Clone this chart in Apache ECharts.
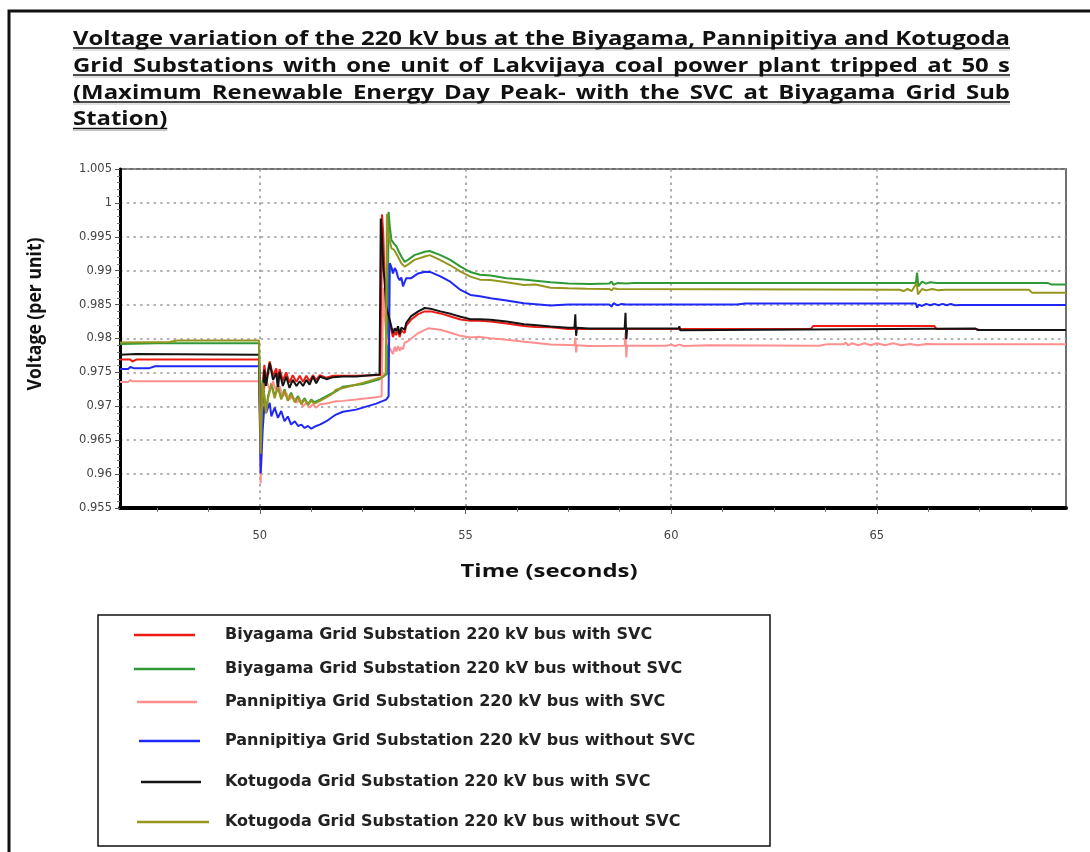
<!DOCTYPE html>
<html>
<head>
<meta charset="utf-8">
<title>Voltage variation of the 220 kV bus</title>
<script src="https://cdn.jsdelivr.net/npm/echarts@6.0.0/dist/echarts.min.js"></script>
<style>
  html, body { margin: 0; padding: 0; background: #ffffff; }
  #chart { width: 1090px; height: 852px; }
</style>
</head>
<body>
<div id="chart"></div>
<script>
// ---- Title text ----
const titleLines = [
  'Voltage variation of the 220 kV bus at the Biyagama, Pannipitiya and Kotugoda',
  'Grid Substations with one unit of Lakvijaya coal power plant tripped at 50 s',
  '(Maximum Renewable Energy Day Peak- with the SVC at Biyagama Grid Sub',
  'Station)'
];
const xAxisName = 'Time (seconds)';
const yAxisName = 'Voltage (per unit)';

// ---- Axis ranges and ticks ----
const timeRange = [46.6, 69.6];
const voltageRange = [0.955, 1.005];
const voltageStep = 0.005;
const timeMajorTicks = [50, 55, 60, 65];
const timeMinorTicks = [47.5, 48.75, 51.25, 52.5, 53.75, 56.25, 57.5, 58.75, 61.25, 62.5, 63.75, 66.25, 67.5, 68.75];

// ---- Series names ----
const seriesNames = [
  'Biyagama Grid Substation 220 kV bus with SVC',
  'Biyagama Grid Substation 220 kV bus without SVC',
  'Pannipitiya Grid Substation 220 kV bus with SVC',
  'Pannipitiya Grid Substation 220 kV bus without SVC',
  'Kotugoda Grid Substation 220 kV bus with SVC',
  'Kotugoda Grid Substation 220 kV bus without SVC'
];

// ---- Bus voltages [time s, voltage p.u.] ----
const biyagamaWithSvc = [
  [46.6,0.9769],[46.85,0.9769],[46.9,0.9766],[47.0,0.9769],[49.98,0.9769],
  [50.0,0.9700],[50.02,0.9652],[50.06,0.9728],[50.11,0.9761],[50.15,0.9738],[50.24,0.9766],[50.28,0.9768],
  [50.32,0.9745],[50.4,0.9756],[50.44,0.9736],[50.48,0.9755],[50.56,0.9738],[50.64,0.9750],[50.72,0.9735],
  [50.8,0.9746],[50.89,0.9736],[50.97,0.9745],[51.05,0.9736],[51.13,0.9745],[51.21,0.9737],[51.29,0.9746],
  [51.37,0.9739],[51.46,0.9746],[51.62,0.9742],[51.78,0.9745],[52.02,0.9745],[52.34,0.9745],[52.94,0.9746],
  [52.97,0.9983],[53.0,0.9955],[53.03,0.9895],[53.07,0.9850],[53.155,0.9823],[53.236,0.9802],[53.28,0.9810],
  [53.317,0.9805],[53.36,0.9814],[53.398,0.9802],[53.44,0.9812],[53.48,0.9814],[53.52,0.9808],[53.56,0.9819],
  [53.68,0.9828],[53.85,0.9836],[54.01,0.9840],[54.15,0.9840],[54.39,0.9837],[54.66,0.9832],[54.88,0.9828],
  [55.12,0.9826],[55.35,0.9826],[55.61,0.9825],[56.0,0.9822],[56.42,0.98186],[56.7,0.9817],[57.07,0.98167],
  [57.5,0.9814],[60.7,0.9814],[63.4,0.9814],[63.45,0.98185],[66.4,0.98185],[66.45,0.9814],[67.4,0.9814],
  [67.5,0.98127],[69.6,0.98127]
];
const biyagamaWithoutSvc = [
  [46.6,0.9792],[47.5,0.9793],[49.98,0.9793],
  [50.0,0.9700],[50.02,0.9633],[50.07,0.9739],[50.15,0.9692],[50.2,0.9715],[50.28,0.9734],[50.36,0.9715],
  [50.44,0.9730],[50.52,0.9712],[50.6,0.9725],[50.68,0.9710],[50.76,0.9720],[50.85,0.9708],[50.93,0.9715],
  [51.01,0.9705],[51.09,0.9712],[51.17,0.9703],[51.25,0.9710],[51.33,0.9706],[51.46,0.9710],[51.62,0.9715],
  [51.78,0.9720],[51.85,0.9722],[52.02,0.9729],[52.5,0.9733],[52.91,0.9740],[53.1,0.9748],
  [53.13,0.9987],[53.16,0.9965],[53.2,0.9945],[53.26,0.9940],[53.32,0.9936],[53.38,0.9928],[53.44,0.9921],
  [53.52,0.9913],[53.6,0.9916],[53.76,0.9923],[54.01,0.9928],[54.13,0.9929],[54.39,0.9923],[54.63,0.9916],
  [54.88,0.9906],[55.12,0.9898],[55.35,0.9894],[55.61,0.9893],[56.0,0.9889],[56.4,0.9887],[57.07,0.9883],
  [57.5,0.9881],[58.03,0.98805],[58.5,0.9881],[58.55,0.9884],[58.6,0.9879],[58.7,0.9882],[58.9,0.9881],
  [59.1,0.9882],[59.4,0.9882],[65.95,0.9882],[65.98,0.9897],[66.01,0.9877],[66.1,0.9884],[66.2,0.9881],
  [66.3,0.9883],[66.45,0.9882],[69.15,0.9882],[69.25,0.98795],[69.6,0.98795]
];
const pannipitiyaWithSvc = [
  [46.6,0.9736],[46.8,0.9736],[46.85,0.9739],[46.9,0.9737],[49.98,0.9737],
  [50.0,0.9680],[50.02,0.9586],[50.05,0.9650],[50.07,0.9715],[50.15,0.9739],[50.24,0.9725],[50.32,0.9737],
  [50.4,0.9722],[50.48,0.9730],[50.56,0.9715],[50.64,0.9720],[50.72,0.9710],[50.8,0.9715],[50.89,0.9705],
  [50.97,0.9710],[51.05,0.9700],[51.13,0.9705],[51.21,0.9698],[51.29,0.9703],[51.37,0.9698],[51.46,0.9703],
  [51.62,0.9704],[51.85,0.97074],[52.02,0.9708],[52.34,0.9710],[52.83,0.97132],[52.96,0.97147],
  [53.0,0.9875],[53.04,0.9830],[53.08,0.9800],[53.155,0.9786],[53.2,0.9784],[53.236,0.9777],[53.28,0.9788],
  [53.317,0.9781],[53.36,0.9789],[53.4,0.9782],[53.44,0.9787],[53.48,0.9784],[53.52,0.9794],[53.6,0.9796],
  [53.68,0.9800],[53.85,0.9808],[54.09,0.9815],[54.39,0.9813],[54.66,0.9808],[54.88,0.98039],[55.12,0.98015],
  [55.35,0.98024],[55.61,0.98005],[56.0,0.9798],[56.5,0.9795],[57.07,0.9791],[57.5,0.97905],[57.65,0.9790],
  [57.67,0.98015],[57.69,0.97795],[57.71,0.9790],[58.0,0.9789],[58.87,0.97893],[58.89,0.98088],[58.91,0.97722],
  [58.93,0.97893],[59.9,0.97893],[60.0,0.9791],[60.1,0.9789],[60.2,0.9791],[60.3,0.9789],[60.9,0.9790],
  [63.6,0.97893],[63.8,0.97917],[64.2,0.97917],[64.25,0.9794],[64.3,0.9790],[64.4,0.9793],[64.55,0.9790],
  [64.7,0.9793],[64.85,0.9790],[65.0,0.9793],[65.2,0.9790],[65.4,0.9793],[65.6,0.9790],[65.8,0.9792],
  [66.0,0.9790],[66.2,0.9792],[66.5,0.97917],[69.6,0.97917]
];
const pannipitiyaWithoutSvc = [
  [46.6,0.9755],[46.8,0.9755],[46.85,0.9758],[46.95,0.9756],[47.3,0.9756],[47.45,0.9759],[49.98,0.9759],
  [50.0,0.9680],[50.02,0.9601],[50.07,0.9666],[50.11,0.9700],[50.15,0.9690],[50.24,0.9705],[50.28,0.9685],
  [50.36,0.9698],[50.44,0.9683],[50.52,0.9693],[50.6,0.9678],[50.68,0.9685],[50.76,0.9673],[50.85,0.9678],
  [50.93,0.9671],[51.01,0.9673],[51.09,0.9668],[51.17,0.9671],[51.25,0.9667],[51.37,0.9671],[51.46,0.9673],
  [51.62,0.9678],[51.78,0.9685],[51.85,0.96877],[52.02,0.9692],[52.34,0.96951],[52.83,0.97039],[53.07,0.97098],
  [53.13,0.97147],[53.16,0.9911],[53.2,0.9905],[53.236,0.9896],[53.28,0.9904],[53.317,0.9900],[53.36,0.9890],
  [53.4,0.9886],[53.44,0.9890],[53.48,0.9877],[53.52,0.9883],[53.56,0.9889],[53.68,0.9889],[53.85,0.9896],
  [54.01,0.98985],[54.15,0.9898],[54.39,0.98917],[54.63,0.98838],[54.88,0.98716],[55.12,0.98642],[55.35,0.98624],
  [55.61,0.98593],[56.0,0.9856],[56.42,0.9852],[57.07,0.98485],[57.5,0.9850],[58.5,0.9850],[58.55,0.9847],
  [58.6,0.9852],[58.7,0.9849],[58.8,0.9851],[58.9,0.9850],[61.6,0.9850],[61.8,0.98517],[65.95,0.98517],
  [65.98,0.98454],[66.02,0.9850],[66.1,0.9848],[66.2,0.9851],[66.3,0.9849],[66.4,0.9851],[66.5,0.9849],
  [66.6,0.9851],[66.7,0.9849],[66.8,0.9851],[66.9,0.9849],[67.05,0.98495],[69.6,0.98495]
];
const kotugodaWithSvc = [
  [46.6,0.9776],[47.0,0.9777],[49.98,0.9776],
  [50.0,0.9710],[50.02,0.9660],[50.08,0.9722],[50.11,0.9754],[50.15,0.9730],[50.24,0.9764],[50.28,0.9766],
  [50.32,0.9739],[50.4,0.9749],[50.44,0.9725],[50.48,0.9751],[50.56,0.9730],[50.64,0.9744],[50.72,0.9727],
  [50.8,0.9739],[50.89,0.9730],[50.97,0.9737],[51.05,0.9730],[51.13,0.9739],[51.21,0.9732],[51.29,0.9744],
  [51.37,0.9734],[51.46,0.9744],[51.62,0.9740],[51.78,0.9743],[52.02,0.9744],[52.34,0.9744],[52.91,0.9747],
  [52.94,0.9977],[52.97,0.9950],[53.0,0.9905],[53.03,0.9887],[53.07,0.9848],[53.155,0.9828],[53.236,0.9808],
  [53.28,0.9815],[53.317,0.9811],[53.36,0.9818],[53.398,0.9806],[53.44,0.9816],[53.48,0.9818],[53.52,0.9813],
  [53.56,0.9823],[53.68,0.9833],[53.85,0.9840],[54.01,0.9845],[54.15,0.9844],[54.39,0.9840],[54.66,0.9836],
  [54.88,0.9832],[55.12,0.98284],[55.35,0.98283],[55.61,0.98275],[56.0,0.9825],[56.42,0.98211],[56.67,0.9820],
  [57.07,0.98176],[57.5,0.9816],[57.65,0.9816],[57.67,0.98356],[57.69,0.9804],[57.71,0.9816],[58.0,0.98146],
  [58.87,0.98146],[58.89,0.9838],[58.91,0.9799],[58.93,0.98146],[60.18,0.98146],[60.2,0.9818],[60.22,0.9812],
  [60.24,0.98146],[67.4,0.98146],[67.45,0.98127],[69.6,0.98127]
];
const kotugodaWithoutSvc = [
  [46.6,0.9794],[47.8,0.9795],[48.0,0.9797],[49.98,0.9797],
  [50.0,0.9700],[50.02,0.9630],[50.07,0.9735],[50.15,0.9690],[50.2,0.9712],[50.28,0.9732],[50.36,0.9712],
  [50.44,0.9728],[50.52,0.9710],[50.6,0.9723],[50.68,0.9708],[50.76,0.9718],[50.85,0.9706],[50.93,0.9713],
  [51.01,0.9703],[51.09,0.9710],[51.17,0.9702],[51.25,0.9708],[51.33,0.9704],[51.46,0.9708],[51.62,0.9713],
  [51.78,0.9719],[51.85,0.97245],[52.02,0.9727],[52.5,0.97343],[52.99,0.97431],[53.06,0.9749],
  [53.09,0.9984],[53.12,0.9955],[53.2,0.9933],[53.26,0.9931],[53.32,0.9925],[53.44,0.9911],[53.52,0.9906],
  [53.6,0.9909],[53.76,0.9916],[54.01,0.9921],[54.13,0.9923],[54.39,0.99157],[54.63,0.9908],[54.88,0.98985],
  [55.12,0.98912],[55.35,0.98868],[55.61,0.98863],[56.0,0.9883],[56.42,0.98789],[56.7,0.98795],[57.07,0.9875],
  [57.5,0.9874],[57.95,0.98732],[58.5,0.9873],[58.55,0.9871],[58.6,0.9874],[58.7,0.9873],[65.55,0.9872],
  [65.65,0.9870],[65.75,0.9873],[65.85,0.9870],[65.97,0.9882],[66.0,0.9865],[66.1,0.9873],[66.2,0.9871],
  [66.35,0.9873],[66.5,0.9871],[66.65,0.9872],[68.7,0.9872],[68.78,0.98673],[69.6,0.98673]
];

const seriesData = [
  biyagamaWithSvc, biyagamaWithoutSvc,
  pannipitiyaWithSvc, pannipitiyaWithoutSvc,
  kotugodaWithSvc, kotugodaWithoutSvc
];
const seriesColors = ['#ee1b14', '#2f9a35', '#ff8f8f', '#1f28f5', '#141414', '#96961e'];

// ---- Text measuring for the justified title ----
const measureCtx = document.createElement('canvas').getContext('2d');
function textWidth(str, font) {
  measureCtx.font = font;
  return measureCtx.measureText(str).width;
}

const TITLE_FONT = 'bold 19px "Open Sans"';
const titleLeft = 73, titleRight = 1010;
const titleCenters = [39.5, 66.5, 93.5, 120];
const titleUnderlines = [48, 75, 102, 128.5];
const titleSpan = titleRight - titleLeft;
const titleScale = titleSpan / textWidth(titleLines[0], TITLE_FONT);
const graphics = [];

titleLines.forEach(function (line, li) {
  const words = line.split(' ');
  const widths = words.map(function (w) { return textWidth(w, TITLE_FONT); });
  const sum = widths.reduce(function (a, b) { return a + b; }, 0);
  const justify = li < titleLines.length - 1;
  const gap = justify ? (titleSpan / titleScale - sum) / (words.length - 1) : textWidth(' ', TITLE_FONT);
  let pos = 0;
  words.forEach(function (w, wi) {
    graphics.push({
      type: 'text', x: titleLeft + pos * titleScale, y: titleCenters[li], scaleX: titleScale,
      style: { text: w, font: TITLE_FONT, fill: '#111', textVerticalAlign: 'middle' }
    });
    pos += widths[wi] + gap;
  });
  const lineEnd = justify ? titleRight : titleLeft + (pos - gap) * titleScale;
  graphics.push({ type: 'line', shape: { x1: titleLeft, y1: titleUnderlines[li] + 2, x2: lineEnd, y2: titleUnderlines[li] + 2 },
    style: { stroke: '#c4c4c4', lineWidth: 1.2 } });
  graphics.push({ type: 'line', shape: { x1: titleLeft, y1: titleUnderlines[li], x2: lineEnd, y2: titleUnderlines[li] },
    style: { stroke: '#111', lineWidth: 1.6 } });
});

// axis names
const NAME_FONT = 'bold 17px "Open Sans"';
graphics.push({
  type: 'text', x: 549, y: 572, scaleX: 177 / textWidth(xAxisName, NAME_FONT),
  style: { text: xAxisName, font: NAME_FONT, fill: '#111', textAlign: 'center', textVerticalAlign: 'middle' }
});
graphics.push({
  type: 'text', x: 36, y: 314, rotation: Math.PI / 2, scaleY: 1.1,
  scaleX: 153 / textWidth(yAxisName, NAME_FONT),
  style: { text: yAxisName, font: NAME_FONT, fill: '#111', textAlign: 'center', textVerticalAlign: 'middle' }
});

// page frame and legend box
graphics.push({ type: 'rect', shape: { x: 9, y: 11, width: 1200, height: 1000 },
  style: { fill: 'none', stroke: '#111', lineWidth: 3 } });
graphics.push({ type: 'rect', shape: { x: 98, y: 615, width: 672, height: 231 },
  style: { fill: 'none', stroke: '#111', lineWidth: 1.5 } });

// ---- Legend rows ----
const legendRowCenters = [635, 669, 702, 741, 782, 822];
const legendLeft = [134, 134, 137, 139, 141, 137];
const legendLineLen = [61, 61, 60, 61, 60, 72];
const legendTextStart = 225;
const legends = seriesNames.map(function (name, i) {
  return {
    data: [name], left: legendLeft[i], top: legendRowCenters[i] - 10, padding: 0,
    itemWidth: legendLineLen[i], itemHeight: 2.5, icon: 'rect', selectedMode: false,
    textStyle: {
      fontFamily: 'DejaVu Sans', fontWeight: 'bold', fontSize: 16, color: '#222', lineHeight: 20,
      padding: [0, 0, 0, legendTextStart - (legendLeft[i] + legendLineLen[i] + 5)]
    }
  };
});

const dotted = { color: '#9a9a9a', type: [2.5, 4.2], width: 1.6 };
const tickFont = { fontFamily: 'DejaVu Sans', fontSize: 11.5, color: '#444' };

const option = {
  animation: false,
  backgroundColor: '#ffffff',
  grid: { left: 120, top: 169, width: 946, height: 339, show: true, borderColor: '#707070', borderWidth: 2 },
  legend: legends,
  xAxis: [{
    type: 'value', min: timeRange[0], max: timeRange[1],
    axisLine: { show: true, onZero: false, lineStyle: { color: '#000', width: 4 } },
    axisTick: { show: true, customValues: timeMajorTicks, length: 6, lineStyle: { color: '#666' } },
    axisLabel: Object.assign({ customValues: timeMajorTicks, margin: 22 }, tickFont),
    splitLine: { show: true, lineStyle: dotted }
  }, {
    type: 'value', min: timeRange[0], max: timeRange[1], position: 'bottom',
    axisLine: { show: false },
    axisTick: { show: true, customValues: timeMinorTicks, length: 4, lineStyle: { color: '#777' } },
    axisLabel: { show: false }, splitLine: { show: false }
  }],
  yAxis: {
    type: 'value', min: voltageRange[0], max: voltageRange[1], interval: voltageStep,
    axisLine: { show: true, lineStyle: { color: '#000', width: 3 } },
    axisTick: { show: true, length: 5, lineStyle: { color: '#555' } },
    minorTick: { show: true, splitNumber: 5, length: 3, lineStyle: { color: '#777' } },
    axisLabel: Object.assign({ margin: 8, formatter: function (v) { return String(+v.toFixed(3)); } }, tickFont),
    splitLine: { show: true, lineStyle: dotted }
  },
  series: seriesNames.map(function (name, i) {
    return {
      name: name, type: 'line', xAxisIndex: 0, data: seriesData[i], color: seriesColors[i],
      symbol: 'none', showSymbol: false, clip: true,
      lineStyle: { width: 2, color: seriesColors[i] }
    };
  }),
  graphic: graphics
};

const chart = echarts.init(document.getElementById('chart'), null, { renderer: 'canvas' });
chart.setOption(option);
</script>
</body>
</html>
